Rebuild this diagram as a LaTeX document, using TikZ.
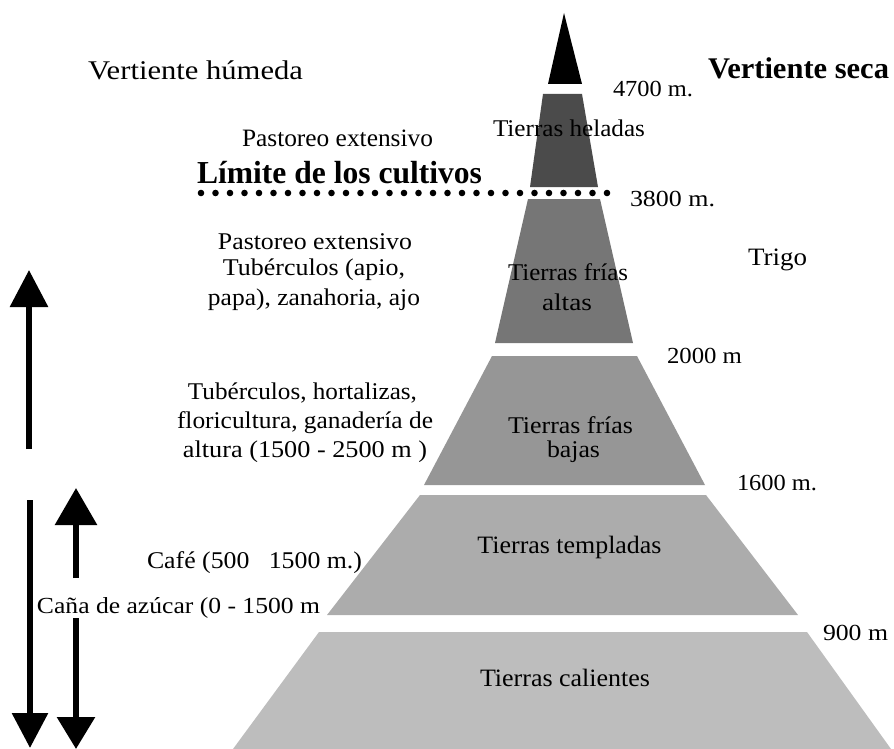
\documentclass[tikz,border=0pt]{standalone}
\usepackage{fontspec}
\setmainfont{Liberation Serif}
\usepackage{graphicx}
\usetikzlibrary{arrows.meta}
\newcommand\fitw[2]{\resizebox{#1pt}{\height}{#2}}
\newcommand\fsz[1]{\fontsize{#1}{#1}\selectfont}
\definecolor{cHel}{HTML}{4B4B4B}
\definecolor{cAlt}{HTML}{767676}
\definecolor{cBaj}{HTML}{969696}
\definecolor{cTem}{HTML}{ACACAC}
\definecolor{cCal}{HTML}{BDBDBD}
\tikzset{
  lbl/.style={inner sep=0pt, anchor=center, text=black},
  arr/.style={line width=6pt, -{Triangle[width=37pt,length=37pt]}},
  dotm/.style={fill=black}
}
\begin{document}
\begin{tikzpicture}[x=1pt,y=-1pt]
\useasboundingbox (0,0) rectangle (894,749);
% pyramid
\fill[black] (564,13) -- (582,84) -- (548,84) -- cycle;
\fill[cHel] (543,94) -- (582,94) -- (598,187) -- (530,187) -- cycle;
\fill[cAlt] (528,199) -- (600,199) -- (633,343) -- (495,343) -- cycle;
\fill[cBaj] (492,356) -- (637,356) -- (705,485) -- (424,485) -- cycle;
\fill[cTem] (420,495) -- (706,495) -- (798,615) -- (327,615) -- cycle;
\fill[cCal] (319,632) -- (807,632) -- (891,749) -- (233,749) -- cycle;
% dotted limit line
\foreach \i in {0,...,28} \fill[dotm] (201+\i*14.5,193) circle (3.3);
% texts
\node[lbl] (vh) at (195.5,70) {\fitw{215}{\fsz{27}Vertiente húmeda}};
\node[lbl] (vs) at (798.5,68) {\fitw{181}{\fsz{30}\bfseries Vertiente seca}};
\node[lbl] (h4700) at (653,89) {\fitw{80}{\fsz{23}4700 m.}};
\node[lbl] (thel) at (569,128) {\fitw{152}{\fsz{24}Tierras heladas}};
\node[lbl] (past1) at (337.5,138) {\fitw{191}{\fsz{25}Pastoreo extensivo}};
\node[lbl] (limite) at (339.5,173) {\fitw{285}{\fsz{32}\bfseries Límite de los cultivos}};
\node[lbl] (h3800) at (672.5,199) {\fitw{85}{\fsz{23}3800 m.}};
\node[lbl] (past2) at (315,242) {\fitw{194}{\fsz{24}Pastoreo extensivo}};
\node[lbl] (tub1) at (314,270) {\fitw{182}{\fsz{24}Tubérculos (apio,}};
\node[lbl] (tub2) at (314,300) {\fitw{212}{\fsz{24}papa), zanahoria, ajo}};
\node[lbl] (tfa1) at (568,272) {\fitw{120}{\fsz{24}Tierras frías}};
\node[lbl] (tfa2) at (567,302) {\fitw{50}{\fsz{24}altas}};
\node[lbl] (trigo) at (777.5,260) {\fitw{59}{\fsz{25}Trigo}};
\node[lbl] (h2000) at (704.5,356) {\fitw{75}{\fsz{23}2000 m}};
\node[lbl] (hor1) at (302.5,393) {\fitw{229}{\fsz{24}Tubérculos, hortalizas,}};
\node[lbl] (hor2) at (305,423) {\fitw{256}{\fsz{24}floricultura, ganadería de}};
\node[lbl] (hor3) at (305,452) {\fitw{244}{\fsz{24}altura (1500 - 2500 m )}};
\node[lbl] (tfb1) at (570.5,425) {\fitw{125}{\fsz{24}Tierras frías}};
\node[lbl] (tfb2) at (573.5,452) {\fitw{53}{\fsz{24}bajas}};
\node[lbl] (h1600) at (777,483) {\fitw{80}{\fsz{23}1600 m.}};
\node[lbl] (ttem) at (569.5,547) {\fitw{184}{\fsz{25}Tierras templadas}};
\node[lbl] (cafe) at (254.5,563) {\fitw{215}{\fsz{24}Café (500 \ \ 1500 m.)}};
\node[lbl] (cana) at (178.5,608) {\fitw{283}{\fsz{23}Caña de azúcar (0 - 1500 m}};
\node[lbl] (h900) at (855.5,633) {\fitw{65}{\fsz{23}900 m}};
\node[lbl] (tcal) at (565,678) {\fitw{170}{\fsz{25}Tierras calientes}};
% arrows
\coordinate (a1s) at (29,449); \coordinate (a1e) at (29,270);
\coordinate (a2s) at (30,500); \coordinate (a2e) at (30,748);
\coordinate (a3s) at (76,578); \coordinate (a3e) at (76,488);
\coordinate (a4s) at (76,618); \coordinate (a4e) at (76,749);
\draw[arr] (a1s) -- (a1e);
\draw[arr, -{Triangle[width=35pt,length=35pt]}] (a2s) -- (a2e);
\draw[arr, -{Triangle[width=41pt,length=37pt]}] (a3s) -- (a3e);
\draw[arr, -{Triangle[width=37pt,length=32pt]}] (a4s) -- (a4e);
\end{tikzpicture}
\end{document}
